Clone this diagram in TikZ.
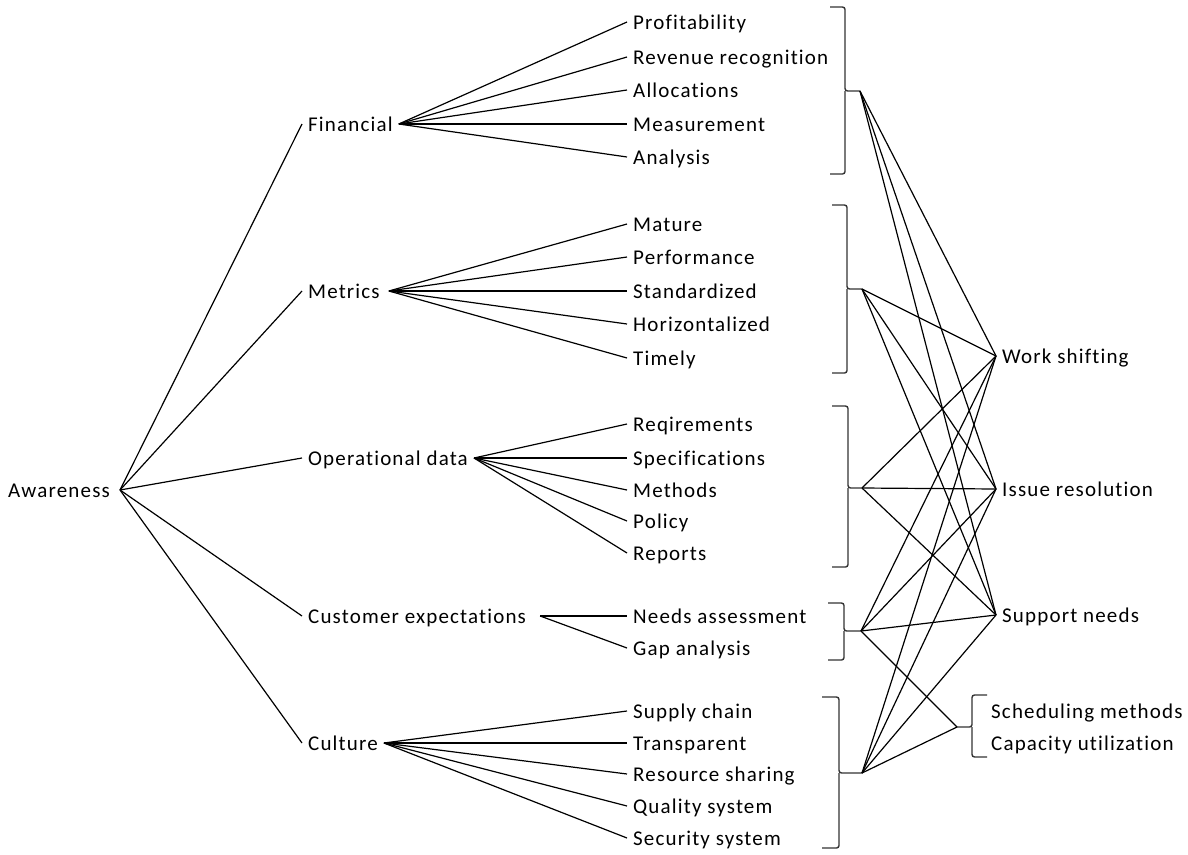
\documentclass[tikz,border=0pt]{standalone}
\usepackage{fontspec}
\setmainfont{Carlito}[LetterSpace=5.5, Ligatures={NoCommon}]
\begin{document}
\begin{tikzpicture}[x=1pt,y=-1pt,
  lbl/.style={anchor=west, inner xsep=6pt, inner ysep=0pt,
    text height=19pt, text depth=4pt, text=black,
    font=\fontsize{21}{24}\selectfont},
  link/.style={line width=1.2pt, black},
  bracket/.style={line width=1.4pt, black!80, rounded corners=2.5pt}]
\useasboundingbox (0,0) rectangle (1188,854);

% root and first level
\node[lbl] (aw) at (2,490) {Awareness};
\node[lbl] (fin) at (302,124) {Financial};
\node[lbl] (met) at (302,291) {Metrics};
\node[lbl] (ops) at (302,458) {Operational data};
\node[lbl] (cus) at (302,616) {Customer expectations};
\node[lbl] (cul) at (302,743) {Culture};
\coordinate (cus-o) at ([xshift=8pt]cus.east);

% second level
\node[lbl] (f1) at (627,22) {Profitability};
\node[lbl] (f2) at (627,57) {Revenue recognition};
\node[lbl] (f3) at (627,90) {Allocations};
\node[lbl] (f4) at (627,124) {Measurement};
\node[lbl] (f5) at (627,157) {Analysis};

\node[lbl] (m1) at (627,224) {Mature};
\node[lbl] (m2) at (627,257) {Performance};
\node[lbl] (m3) at (627,291) {Standardized};
\node[lbl] (m4) at (627,324) {Horizontalized};
\node[lbl] (m5) at (627,358) {Timely};

\node[lbl] (o1) at (627,424) {Reqirements};
\node[lbl] (o2) at (627,458) {Specifications};
\node[lbl] (o3) at (627,490) {Methods};
\node[lbl] (o4) at (627,521) {Policy};
\node[lbl] (o5) at (627,553) {Reports};

\node[lbl] (c1) at (627,616) {Needs assessment};
\node[lbl] (c2) at (627,648) {Gap analysis};

\node[lbl] (k1) at (627,711) {Supply chain};
\node[lbl] (k2) at (627,743) {Transparent};
\node[lbl] (k3) at (627,774) {Resource sharing};
\node[lbl] (k4) at (627,806) {Quality system};
\node[lbl] (k5) at (627,838) {Security system};

% outcomes
\node[lbl] (ws) at (996,356) {Work shifting};
\node[lbl] (ir) at (996,489) {Issue resolution};
\node[lbl] (sn) at (996,615) {Support needs};
\node[lbl] (sm) at (985,711) {Scheduling methods};
\node[lbl] (cu) at (985,743) {Capacity utilization};

% root links
\foreach \n in {fin,met,ops,cus,cul} \draw[link] ([xshift=4pt]aw.east) -- (\n.west);

% group links
\foreach \n in {f1,f2,f3,f4,f5} \draw[link] (fin.east) -- (\n.west);
\foreach \n in {m1,m2,m3,m4,m5} \draw[link] ([xshift=3pt]met.east) -- (\n.west);
\foreach \n in {o1,o2,o3,o4,o5} \draw[link] (ops.east) -- (\n.west);
\foreach \n in {c1,c2} \draw[link] (cus-o) -- (\n.west);
\foreach \n in {k1,k2,k3,k4,k5} \draw[link] (cul.east) -- (\n.west);

% right brackets
\coordinate (bf) at (860,91);
\coordinate (bm) at (862,289);
\coordinate (bo) at (862,488);
\coordinate (bc) at (861,631);
\coordinate (bk) at (862,773);
\draw[bracket] (830,7) -| (845,91) -- (bf);
\draw[bracket] (830,174) -| (845,91);
\draw[bracket] (832,205) -| (847,289) -- (bm);
\draw[bracket] (832,373) -| (847,289);
\draw[bracket] (832,406) -| (848,488) -- (bo);
\draw[bracket] (832,567) -| (848,488);
\draw[bracket] (828,603) -| (844,631) -- (bc);
\draw[bracket] (828,660) -| (844,631);
\draw[bracket] (822,697) -| (839,773) -- (bk);
\draw[bracket] (822,848) -| (839,773);

% left bracket of the scheduling pair
\coordinate (bs) at (957,727);
\draw[bracket] (987,695) -| (972,727) -- (bs);
\draw[bracket] (987,757) -| (972,727);

% cross links
\foreach \b in {bf,bm,bo,bc,bk}
  \foreach \t in {ws,ir,sn} \draw[link] (\b) -- (\t.west);
\draw[link] (bc) -- (bs);
\draw[link] (bk) -- (bs);
\end{tikzpicture}
\end{document}
